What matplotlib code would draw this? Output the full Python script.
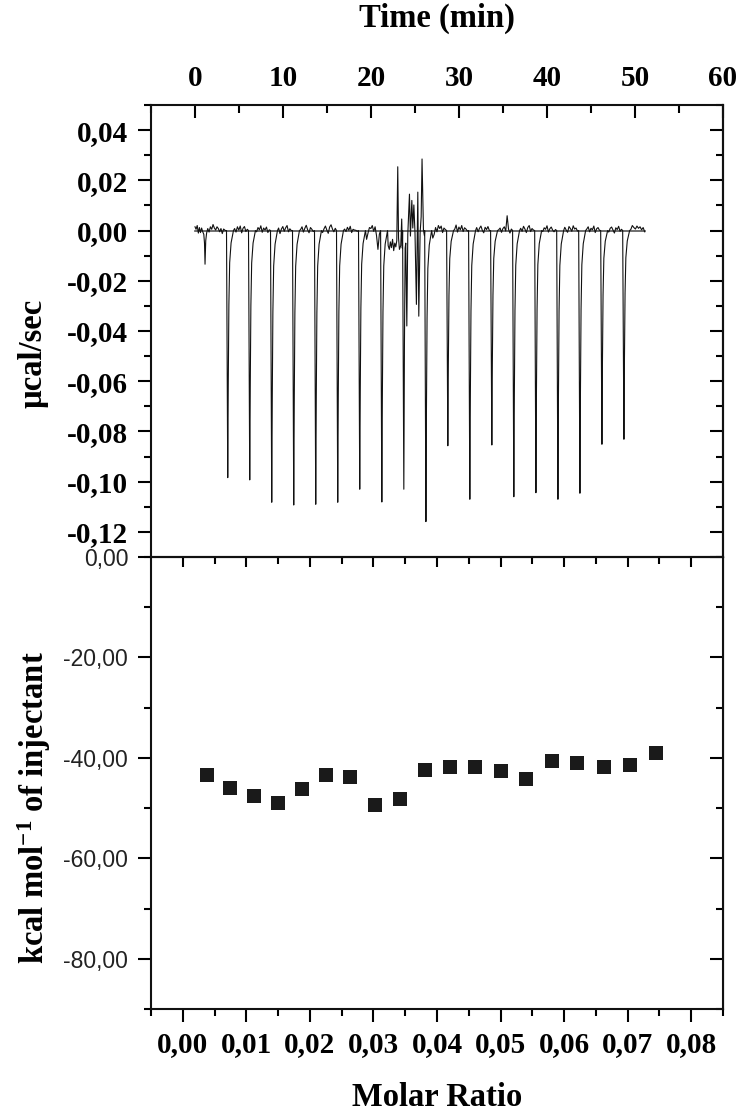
import numpy as np
import matplotlib
matplotlib.use("Agg")
import matplotlib.pyplot as plt
from matplotlib.ticker import FixedLocator, FuncFormatter, NullFormatter

# ---------------- data ----------------
# raw ITC thermogram (top panel)
inj_time = [3.72, 6.22, 8.72, 11.22, 13.72, 16.22, 18.72, 21.23, 23.73, 26.24,
            28.73, 31.23, 33.73, 36.23, 38.74, 41.24, 43.74, 46.24, 48.74]
inj_peak = [-0.0984, -0.0993, -0.1082, -0.1093, -0.1090, -0.1082, -0.1030, -0.1081, -0.1030, -0.1159,
            -0.0857, -0.1070, -0.0854, -0.1060, -0.1044, -0.1070, -0.1046, -0.0851, -0.0831]
# recovery profile of one injection peak (minutes after bottom, fraction of depth)
peak_offset = [0.06, 0.13, 0.22, 0.38, 0.65]
peak_shape = [0.62, 0.30, 0.13, 0.05, 0.0]

# trace before first injection (min, 1e-3 ucal/s)
pre_t = [0.0, 0.12, 0.25, 0.38, 0.5, 0.62, 0.75, 0.88, 1.0, 1.08, 1.14, 1.22, 1.32, 1.45,
         1.6, 1.75, 1.9, 2.05, 2.2, 2.35, 2.5, 2.65, 2.8, 2.95, 3.1, 3.25, 3.45]
pre_v = [1.5, 0.5, 2.0, -1.0, 1.2, -0.8, 1.0, -0.5, -1.5, -5.0, -13.4, -4.0, -1.0, 0.8,
         -0.6, 1.5, 0.5, 2.4, 1.0, 0.2, 1.5, 0.8, -0.5, 0.8, -1.2, 0.6, 0.0]

# baseline noise between regular injections (1e-3 ucal/s)
gap_noise = [
    [0.8, -0.6, 1.5, 0.2, 1.8, -0.9, 0.9, 1.6, -0.4, 0.5],
    [-0.5, 1.2, 0.3, 1.9, -0.7, 1.0, 0.2, 1.4, -0.8, 0.3],
    [1.0, -1.2, 0.6, 1.6, -0.3, 1.1, 2.0, -0.5, 0.7, 0.0],
    [0.4, 1.5, -0.6, 0.9, 2.1, 0.3, -0.9, 1.2, 0.5, -0.4],
    [-0.8, 0.7, 1.8, 0.2, -1.1, 1.4, 2.3, 0.6, -0.5, 0.9],
    [0.6, -0.4, 1.3, 0.1, 1.7, -0.8, 0.5, 0.2, 0.1, -0.3],
    [-3.5, -1.0, 1.2, 0.8, 2.0, -0.3, 1.5, -2.0, -7.5, -1.5],
    [-3.0, -1.5, 1.2, -0.5, 2.0, 0.8, 1.8, -0.8, 1.0, 0.4],
    [0.5, 2.2, -0.6, 1.4, 0.3, 2.0, -0.4, 1.1, 0.6, -0.2],
    [1.2, -0.5, 0.9, 1.8, 0.1, -0.9, 1.3, 0.4, 1.6, 0.0],
    [0.3, 1.0, -0.7, 0.8, 1.5, -0.2, 5.9, 0.5, -1.0, 0.6],
    [0.9, -0.3, 1.7, 0.6, -0.8, 1.2, 2.0, -0.4, 0.8, 0.2],
    [-0.4, 1.1, 0.5, 1.9, -0.6, 0.7, 1.4, 0.2, -0.5, 0.4],
    [1.3, 0.2, -0.7, 1.6, 0.8, -0.3, 1.9, 0.6, 1.0, -0.2],
    [0.6, 1.5, -0.5, 0.9, 0.3, 1.8, -0.8, 0.7, 1.2, 0.1],
    [-0.6, 0.9, 1.4, 0.2, -1.0, 1.1, 0.4, 1.7, -0.3, 0.5],
]
tail_noise = [0.4, 2.0, 1.2, 0.6, 1.8, 0.9, 1.5, 0.3, 1.2, -0.5]

# unsettled stretches after the 8th and 9th injections (min, 1e-3 ucal/s)
chaos_a_t = [21.95, 22.08, 22.2, 22.32, 22.45, 22.58, 22.7, 22.82, 22.93, 23.04,
             23.13, 23.23, 23.38, 23.49, 23.56]
chaos_a_v = [-6.0, -7.5, -4.5, -6.8, -3.5, -8.0, -5.0, -6.5, -4.0, 25.4,
             -3.0, -7.5, -6.0, 4.6, -7.0]
chaos_b_t = [23.80, 23.88, 23.95, 24.07, 24.18, 24.37, 24.48, 24.64, 24.75, 24.87,
             25.0, 25.16, 25.32, 25.43, 25.58, 25.7, 25.8, 25.96, 26.07]
chaos_b_v = [-45.0, -7.0, -5.0, -38.0, -1.6, 14.5, -2.2, 12.0, 1.0, 10.2,
             -1.0, -29.4, 15.3, -34.1, -1.0, 5.5, 28.5, 0.2, -2.0]

# integrated heats (bottom panel)
molar_ratio = [0.00378, 0.00744, 0.01116, 0.01494, 0.01871, 0.02255, 0.02633, 0.03028,
               0.03412, 0.03808, 0.04197, 0.04599, 0.05000, 0.05401, 0.05809, 0.06210,
               0.06629, 0.07036, 0.07449]
heat = [-43.5, -45.9, -47.6, -49.0, -46.1, -43.5, -43.9, -49.4, -48.2, -42.4,
        -41.8, -41.8, -42.6, -44.3, -40.7, -41.1, -41.9, -41.4, -39.0]

time_ticks = [0, 10, 20, 30, 40, 50, 60]
power_ticks = [-0.12, -0.10, -0.08, -0.06, -0.04, -0.02, 0.00, 0.02, 0.04]
ratio_ticks = [0.00, 0.01, 0.02, 0.03, 0.04, 0.05, 0.06, 0.07, 0.08]
heat_ticks = [-80, -60, -40, -20, 0]

# ---------------- build trace ----------------
t_pts = list(pre_t)
v_pts = [v * 1e-3 for v in pre_v]
g = 0
n_inj = len(inj_time)
for i, (ti, di) in enumerate(zip(inj_time, inj_peak)):
    t_pts += [ti - 0.14, ti]
    v_pts += [0.0, di]
    if i == 8:
        t_pts += chaos_b_t
        v_pts += [v * 1e-3 for v in chaos_b_v]
        continue
    for off, fr in zip(peak_offset, peak_shape):
        t_pts.append(ti + off)
        v_pts.append(di * fr)
    if i == 7:
        t_pts += chaos_a_t
        v_pts += [v * 1e-3 for v in chaos_a_v]
    elif i < n_inj - 1:
        vals = gap_noise[g]
        g += 1
        tt = np.linspace(ti + 0.78, inj_time[i + 1] - 0.28, len(vals))
        t_pts += list(tt)
        v_pts += [v * 1e-3 for v in vals]
    else:
        tt = np.linspace(ti + 0.78, 51.1, len(tail_noise))
        t_pts += list(tt)
        v_pts += [v * 1e-3 for v in tail_noise]

# ---------------- figure ----------------
SERIF = "Liberation Serif"
SANS = "Liberation Sans"
plt.rcParams["mathtext.fontset"] = "custom"
plt.rcParams["mathtext.rm"] = "Liberation Serif:bold"
plt.rcParams["mathtext.bf"] = "Liberation Serif:bold"
plt.rcParams["mathtext.it"] = "Liberation Serif:bold"

W, H = 744, 1116
fig = plt.figure(figsize=(W / 100, H / 100), dpi=100)
L, R = 151 / W, 723 / W
top_ax = fig.add_axes([L, 1 - 557 / H, R - L, (557 - 105) / H])
bot_ax = fig.add_axes([L, 1 - 1009 / H, R - L, (1009 - 557) / H])

tick_font = dict(family=SERIF, weight="bold", size=21)
lab_font = dict(family=SERIF, weight="bold", size=23.5)
MAJ, MIN, TW = 9.4, 4.7, 1.5


def comma(fmt):
    def f(v, pos):
        if abs(v) < 1e-12:
            v = 0.0
        return (fmt % v).replace(".", ",")
    return FuncFormatter(f)


for ax in (top_ax, bot_ax):
    for s in ax.spines.values():
        s.set_linewidth(1.5)
        s.set_color("#111111")

# ---- top panel ----
ax = top_ax
ax.axhline(0, xmin=(0 + 5) / 65, xmax=(51.1 + 5) / 65, color="#555555", lw=1.2, zorder=1)
ax.plot(t_pts, v_pts, color="#111111", lw=0.8, zorder=2)
ax.set_xlim(-5, 60)
ax.set_ylim(-0.13, 0.05)
ax.xaxis.tick_top()
ax.xaxis.set_major_locator(FixedLocator(time_ticks))
ax.xaxis.set_minor_locator(FixedLocator([-5, 5, 15, 25, 35, 45, 55]))
ax.xaxis.set_major_formatter(FuncFormatter(lambda v, p: "%d" % v))
ax.tick_params(axis="x", which="both", direction="in", top=True, bottom=False,
               labeltop=True, labelbottom=False, width=TW)
ax.tick_params(axis="x", which="major", length=MAJ, pad=9)
ax.tick_params(axis="x", which="minor", length=5.5)
ax.yaxis.set_major_locator(FixedLocator(power_ticks))
ax.yaxis.set_minor_locator(FixedLocator([-0.13, -0.11, -0.09, -0.07, -0.05, -0.03, -0.01, 0.01, 0.03, 0.05]))
ax.yaxis.set_major_formatter(comma("%.2f"))
ax.tick_params(axis="y", which="both", direction="out", left=True, right=False, width=TW)
ax.tick_params(axis="y", which="major", length=MAJ, pad=7)
ax.tick_params(axis="y", which="minor", length=MIN)
for lab in ax.get_xticklabels() + ax.get_yticklabels():
    lab.set_fontproperties(matplotlib.font_manager.FontProperties(**tick_font))
sec = ax.secondary_yaxis("right")
sec.yaxis.set_major_locator(FixedLocator(power_ticks))
sec.yaxis.set_minor_locator(FixedLocator([-0.13, -0.11, -0.09, -0.07, -0.05, -0.03, -0.01, 0.01, 0.03, 0.05]))
sec.yaxis.set_major_formatter(NullFormatter())
sec.tick_params(axis="y", which="both", direction="in", width=TW)
sec.tick_params(axis="y", which="major", length=MAJ)
sec.tick_params(axis="y", which="minor", length=MIN)
sec.spines["right"].set_linewidth(1.5)
ax.set_xlabel("Time (min)", **lab_font)
ax.xaxis.set_label_coords(0.5, 1 + (105 - 18) / 452)
ax.xaxis.label.set_va("center")
ax.set_ylabel("\u00b5cal/sec", **lab_font)
ax.yaxis.set_label_coords((33 - 151) / 572, (557 - 353) / 452)
ax.yaxis.label.set_va("center")

# ---- bottom panel ----
ax = bot_ax
ax.plot(molar_ratio, heat, linestyle="none", marker="s", markersize=10,
        color="#1a1a1a", markeredgewidth=0)
ax.set_xlim(-0.005, 0.085)
ax.set_ylim(-90, 0)
ax.xaxis.set_major_locator(FixedLocator(ratio_ticks))
ax.xaxis.set_minor_locator(FixedLocator([-0.005, 0.005, 0.015, 0.025, 0.035, 0.045, 0.055, 0.065, 0.075, 0.085]))
ax.xaxis.set_major_formatter(comma("%.2f"))
ax.tick_params(axis="x", which="both", direction="out", top=False, bottom=True, width=TW)
ax.tick_params(axis="x", which="major", length=MAJ, pad=6.5)
ax.tick_params(axis="x", which="minor", length=MIN)
ax.yaxis.set_major_locator(FixedLocator(heat_ticks))
ax.yaxis.set_minor_locator(FixedLocator([-90, -70, -50, -30, -10]))
ax.yaxis.set_major_formatter(comma("%.2f"))
ax.tick_params(axis="y", which="both", direction="out", left=True, right=False, width=TW)
ax.tick_params(axis="y", which="major", length=MAJ, pad=7)
ax.tick_params(axis="y", which="minor", length=MIN)
for lab in ax.get_xticklabels():
    lab.set_fontproperties(matplotlib.font_manager.FontProperties(**tick_font))
for lab in ax.get_yticklabels():
    lab.set_fontproperties(matplotlib.font_manager.FontProperties(family=SANS, size=16.5))
    lab.set_color("#222222")
secx = ax.secondary_xaxis("top")
secx.xaxis.set_major_locator(FixedLocator(ratio_ticks))
secx.xaxis.set_minor_locator(FixedLocator([0.005, 0.015, 0.025, 0.035, 0.045, 0.055, 0.065, 0.075]))
secx.xaxis.set_major_formatter(NullFormatter())
secx.tick_params(axis="x", which="both", direction="in", width=TW)
secx.tick_params(axis="x", which="major", length=7.5)
secx.tick_params(axis="x", which="minor", length=5)
secy = ax.secondary_yaxis("right")
secy.yaxis.set_major_locator(FixedLocator(heat_ticks))
secy.yaxis.set_minor_locator(FixedLocator([-90, -70, -50, -30, -10]))
secy.yaxis.set_major_formatter(NullFormatter())
secy.tick_params(axis="y", which="both", direction="in", width=TW)
secy.tick_params(axis="y", which="major", length=MAJ)
secy.tick_params(axis="y", which="minor", length=MIN)
ax.set_xlabel("Molar Ratio", **lab_font)
ax.xaxis.set_label_coords(0.5, -(1097 - 1009) / 452)
ax.xaxis.label.set_va("center")
ax.set_ylabel(r"kcal mol$^{-1}$ of injectant", **lab_font)
ax.yaxis.set_label_coords((34 - 151) / 572, (1009 - 808) / 452)
ax.yaxis.label.set_va("center")

fig.savefig("out.png", dpi=100)
